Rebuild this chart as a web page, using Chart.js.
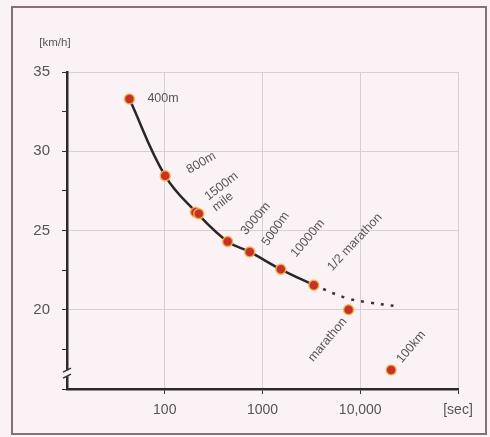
<!DOCTYPE html>
<html>
<head>
<meta charset="utf-8">
<script src="https://cdn.jsdelivr.net/npm/chart.js@4/dist/chart.umd.min.js"></script>
<style>
html,body{margin:0;padding:0;background:#fbf2f5;}
#wrap{position:relative;width:490px;height:437px;}
</style>
</head>
<body>
<div id="wrap"><canvas id="c" width="490" height="437"></canvas></div>
<script>
// ---- data ----
const distances = ['400m','800m','1500m','mile','3000m','5000m','10000m','1/2 marathon','marathon','100km'];
const timesSec   = [43.5, 101, 206, 223, 440, 740, 1540, 3350, 7600, 20700];
const speedsKmh  = [33.3, 28.45, 26.15, 26.05, 24.3, 23.65, 22.55, 21.55, 20.0, 16.2];
const trendSolidSec  = [43.5, 101, 214, 440, 740, 1540, 3350];
const trendSolidKmh  = [33.3, 28.45, 26.1, 24.3, 23.65, 22.55, 21.55];
const trendDottedSec = [3350, 7300, 12200, 25000];
const trendDottedKmh = [21.55, 20.73, 20.46, 20.2];
const yTickValues = [15, 17.5, 20, 22.5, 25, 27.5, 30, 32.5, 35];
const yTickLabels = ['', '', '20', '', '25', '', '30', '', '35'];
const xTickValues = [10, 100, 1000, 10000, 100000];
const xTickLabels = ['', '100', '1000', '10,000', '[sec]'];
const yUnit = '[km/h]';

// label placement (styling): offsets from point, rotation in degrees
const labelStyle = [
  {dx:18, dy:0, rot:0, align:'left'},
  {dx:36, dy:-13, rot:-30},
  {dx:26, dy:-26, rot:-38},
  {dx:24, dy:-12, rot:-38},
  {dx:28, dy:-23, rot:-50},
  {dx:26, dy:-23, rot:-55},
  {dx:27, dy:-31, rot:-50},
  {dx:41, dy:-43, rot:-47},
  {dx:-21, dy:30, rot:-50},
  {dx:20, dy:-23, rot:-50}
];

const toXY = (xs, ys) => xs.map((x, i) => ({x: x, y: ys[i]}));

const bgPlugin = {
  id: 'bg',
  beforeDraw(chart) {
    const ctx = chart.ctx;
    ctx.save();
    ctx.fillStyle = '#fbf2f5';
    ctx.fillRect(0, 0, chart.width, chart.height);
    ctx.strokeStyle = '#8a6f72';
    ctx.lineWidth = 2;
    ctx.strokeRect(12, 7, 474, 427);
    ctx.fillStyle = '#555';
    ctx.font = '11.5px "Liberation Sans", Arial, sans-serif';
    ctx.textAlign = 'center';
    ctx.textBaseline = 'middle';
    ctx.fillText(yUnit, 55, 43);
    ctx.restore();
  }
};

const labelsPlugin = {
  id: 'ptLabels',
  afterDatasetsDraw(chart) {
    const ctx = chart.ctx;
    const meta = chart.getDatasetMeta(2);
    ctx.save();
    ctx.fillStyle = '#555';
    ctx.font = '12.5px "Liberation Sans", Arial, sans-serif';
    ctx.textBaseline = 'middle';
    meta.data.forEach((el, i) => {
      const s = labelStyle[i];
      ctx.save();
      ctx.translate(el.x + s.dx, el.y + s.dy);
      ctx.rotate(s.rot * Math.PI / 180);
      ctx.textAlign = s.align || 'center';
      ctx.fillText(distances[i], 0, 0);
      ctx.restore();
    });
    // axis break marker on y axis
    const ya = chart.scales.y;
    const x0 = ya.right;
    const yb = ya.getPixelForValue(16.0);
    ctx.fillStyle = '#fbf2f5';
    ctx.fillRect(x0 - 4, yb - 3, 8, 6);
    ctx.strokeStyle = '#333';
    ctx.lineWidth = 1.5;
    ctx.beginPath();
    ctx.moveTo(x0 - 4, yb - 1); ctx.lineTo(x0 + 4, yb - 5);
    ctx.moveTo(x0 - 4, yb + 5); ctx.lineTo(x0 + 4, yb + 1);
    ctx.stroke();
    ctx.restore();
  }
};

new Chart(document.getElementById('c'), {
  type: 'scatter',
  data: {
    datasets: [
      {
        data: toXY(trendSolidSec, trendSolidKmh),
        showLine: true,
        borderColor: '#2a2626',
        borderWidth: 2.5,
        pointRadius: 0,
        tension: 0.4,
        order: 3
      },
      {
        data: toXY(trendDottedSec, trendDottedKmh),
        showLine: true,
        borderColor: '#3a3434',
        borderWidth: 2.5,
        borderDash: [3, 7],
        pointRadius: 0,
        tension: 0.4,
        order: 2
      },
      {
        data: toXY(timesSec, speedsKmh),
        showLine: false,
        pointRadius: 5,
        pointBackgroundColor: '#c8302a',
        pointBorderColor: 'rgba(246,184,72,0.85)',
        pointBorderWidth: 1.5,
        order: 1
      }
    ]
  },
  options: {
    responsive: false,
    animation: false,
    devicePixelRatio: 1,
    layout: {padding: {left: 0, top: 72, right: 32, bottom: 0}},
    plugins: {legend: {display: false}, tooltip: {enabled: false}},
    scales: {
      x: {
        type: 'logarithmic',
        min: 10, max: 100000,
        afterBuildTicks(scale) { scale.ticks = xTickValues.map(v => ({value: v})); },
        afterFit(scale) { scale.height = 48; },
        ticks: {
          autoSkip: false, maxRotation: 0,
          callback(v) { const i = xTickValues.indexOf(v); return i >= 0 ? xTickLabels[i] : ''; },
          color: '#555',
          font: {family: '"Liberation Sans", Arial, sans-serif', size: 14},
          padding: 8
        },
        grid: {
          color: (c) => (c.tick && c.tick.value > 10) ? '#d9cfd3' : 'transparent',
          tickColor: (c) => (c.tick && c.tick.value > 10) ? '#333' : 'transparent',
          tickLength: 5,
          lineWidth: 1
        },
        border: {display: true, color: '#2e2a2a', width: 2.5}
      },
      y: {
        min: 15, max: 35,
        afterBuildTicks(scale) { scale.ticks = yTickValues.map(v => ({value: v})); },
        afterFit(scale) { scale.width = 67; },
        ticks: {
          autoSkip: false,
          callback(v) { const i = yTickValues.indexOf(v); return i >= 0 ? yTickLabels[i] : ''; },
          color: '#555',
          font: {family: '"Liberation Sans", Arial, sans-serif', size: 15},
          padding: 12
        },
        grid: {
          color: (c) => (c.tick && c.tick.value % 5 === 0 && c.tick.value > 15) ? '#d9cfd3' : 'transparent',
          tickColor: '#333',
          tickLength: 5,
          lineWidth: 1
        },
        border: {display: true, color: '#2e2a2a', width: 2.5}
      }
    }
  },
  plugins: [bgPlugin, labelsPlugin]
});
</script>
</body>
</html>
